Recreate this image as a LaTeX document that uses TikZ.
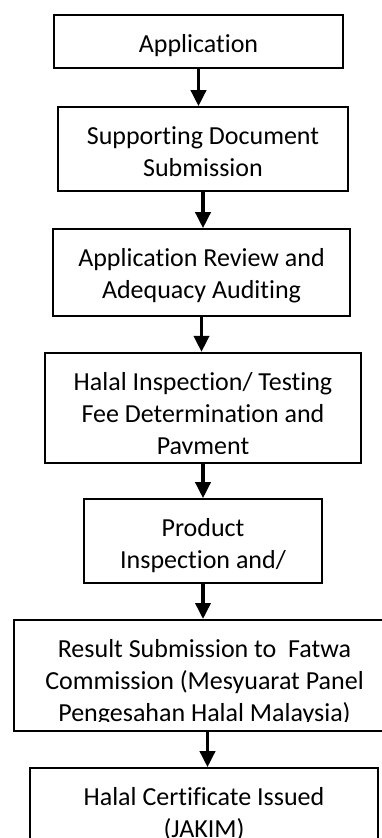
\documentclass[tikz,border=0pt]{standalone}
\usepackage{fontspec}
\setmainfont[Ligatures=NoCommon]{Carlito}
\usetikzlibrary{arrows.meta}
\tikzset{stepbox/.style={draw,line width=1.6pt,inner sep=0pt,path picture={\clip (path picture bounding box.north west) rectangle ([yshift=9pt]path picture bounding box.south east); \node[anchor=north,align=center,inner sep=0pt,minimum width=0pt,minimum height=0pt,font=\fontsize{26}{32}\selectfont] at ([yshift=-19pt]path picture bounding box.north) {#1};}}, flow/.style={-{Triangle[length=16pt,width=15pt]},line width=3.6pt}}

\begin{document}
\begin{tikzpicture}[x=1pt,y=-1pt]
\useasboundingbox[fill=white] (0,0) rectangle (382,838);
\node[stepbox={Application},minimum width=289pt,minimum height=53pt] (app) at (198.5,41.5) {};
\node[stepbox={Supporting Document\\Submission},minimum width=290pt,minimum height=84pt] (doc) at (203,149) {};
\node[stepbox={Application Review and\\Adequacy Auditing},minimum width=297pt,minimum height=87pt] (rev) at (201.5,272.5) {};
\node[stepbox={Halal Inspection/ Testing\\Fee Determination and\\Payment},minimum width=316pt,minimum height=110pt] (fee) at (203,407.7) {};
\node[stepbox={Product\\Inspection and/\\Testing},minimum width=238pt,minimum height=84pt] (insp) at (203,541) {};
\node[stepbox={Result Submission to~ Fatwa\\Commission (Mesyuarat Panel\\Pengesahan Halal Malaysia)},minimum width=381pt,minimum height=111pt] (fatwa) at (204.5,675.3) {};
\node[stepbox={Halal Certificate Issued\\(JAKIM)},minimum width=348pt,minimum height=112pt] (cert) at (204,824) {};
\draw[flow] (app.south)--(app.south|-doc.north);\draw[flow] (doc.south)--(doc.south|-rev.north);
\draw[flow] (rev.south)--(rev.south|-fee.north);\draw[flow] (fee.south)--(fee.south|-insp.north);
\draw[flow] (insp.south)--(insp.south|-fatwa.north);\draw[flow] ([xshift=3pt]fatwa.south)--([xshift=3pt]fatwa.south|-cert.north);
\end{tikzpicture}
\end{document}
